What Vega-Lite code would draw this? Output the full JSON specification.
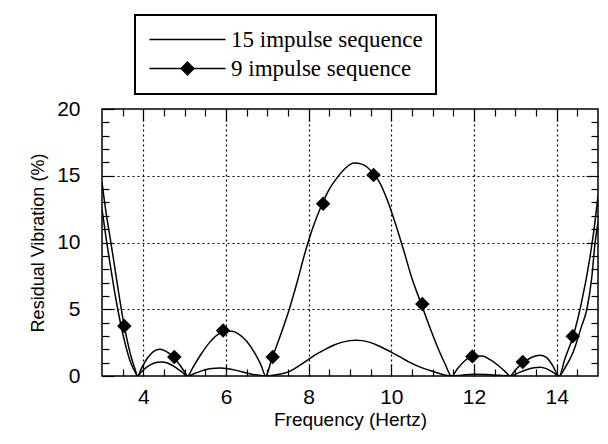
{
  "$schema": "https://vega.github.io/schema/vega-lite/v6.json",
  "width": 496,
  "height": 267,
  "autosize": {"type": "none"},
  "padding": {"left": 102, "top": 109, "right": 10, "bottom": 68},
  "background": "white",
  "config": {
    "view": {"stroke": "black", "strokeWidth": 1.5},
    "font": "Liberation Sans"
  },
  "datasets": {
    "curves": [
      {"series": "9 impulse sequence", "f": 3.0, "v": 14.5},
      {"series": "9 impulse sequence", "f": 3.1, "v": 12.2},
      {"series": "9 impulse sequence", "f": 3.2, "v": 10.3},
      {"series": "9 impulse sequence", "f": 3.3, "v": 8.3},
      {"series": "9 impulse sequence", "f": 3.4, "v": 6.3},
      {"series": "9 impulse sequence", "f": 3.5, "v": 4.4},
      {"series": "9 impulse sequence", "f": 3.6, "v": 2.8},
      {"series": "9 impulse sequence", "f": 3.7, "v": 1.5},
      {"series": "9 impulse sequence", "f": 3.8, "v": 0.5},
      {"series": "9 impulse sequence", "f": 3.86, "v": 0},
      {"series": "9 impulse sequence", "f": 3.95, "v": 0.55},
      {"series": "9 impulse sequence", "f": 4.1, "v": 1.35},
      {"series": "9 impulse sequence", "f": 4.25, "v": 1.85},
      {"series": "9 impulse sequence", "f": 4.4, "v": 2.0},
      {"series": "9 impulse sequence", "f": 4.55, "v": 1.85},
      {"series": "9 impulse sequence", "f": 4.7, "v": 1.5},
      {"series": "9 impulse sequence", "f": 4.85, "v": 0.95},
      {"series": "9 impulse sequence", "f": 5.0, "v": 0.3},
      {"series": "9 impulse sequence", "f": 5.07, "v": 0},
      {"series": "9 impulse sequence", "f": 5.2, "v": 0.65},
      {"series": "9 impulse sequence", "f": 5.4, "v": 1.65},
      {"series": "9 impulse sequence", "f": 5.6, "v": 2.5},
      {"series": "9 impulse sequence", "f": 5.8, "v": 3.1},
      {"series": "9 impulse sequence", "f": 6.0, "v": 3.35},
      {"series": "9 impulse sequence", "f": 6.15, "v": 3.35},
      {"series": "9 impulse sequence", "f": 6.3, "v": 3.15},
      {"series": "9 impulse sequence", "f": 6.5, "v": 2.6},
      {"series": "9 impulse sequence", "f": 6.7, "v": 1.7},
      {"series": "9 impulse sequence", "f": 6.85, "v": 0.8},
      {"series": "9 impulse sequence", "f": 6.96, "v": 0},
      {"series": "9 impulse sequence", "f": 7.1, "v": 1.2},
      {"series": "9 impulse sequence", "f": 7.3, "v": 2.9},
      {"series": "9 impulse sequence", "f": 7.5, "v": 4.7},
      {"series": "9 impulse sequence", "f": 7.7, "v": 6.8},
      {"series": "9 impulse sequence", "f": 7.9, "v": 9.1},
      {"series": "9 impulse sequence", "f": 8.1, "v": 11.1},
      {"series": "9 impulse sequence", "f": 8.3, "v": 12.7},
      {"series": "9 impulse sequence", "f": 8.5, "v": 14.0},
      {"series": "9 impulse sequence", "f": 8.7, "v": 14.9},
      {"series": "9 impulse sequence", "f": 8.9, "v": 15.6},
      {"series": "9 impulse sequence", "f": 9.1, "v": 15.95},
      {"series": "9 impulse sequence", "f": 9.3, "v": 15.85},
      {"series": "9 impulse sequence", "f": 9.5, "v": 15.4},
      {"series": "9 impulse sequence", "f": 9.7, "v": 14.6},
      {"series": "9 impulse sequence", "f": 9.9, "v": 13.2},
      {"series": "9 impulse sequence", "f": 10.1, "v": 11.4},
      {"series": "9 impulse sequence", "f": 10.3, "v": 9.4},
      {"series": "9 impulse sequence", "f": 10.5, "v": 7.3},
      {"series": "9 impulse sequence", "f": 10.7, "v": 5.6},
      {"series": "9 impulse sequence", "f": 10.9, "v": 3.9},
      {"series": "9 impulse sequence", "f": 11.1, "v": 2.3},
      {"series": "9 impulse sequence", "f": 11.3, "v": 0.9},
      {"series": "9 impulse sequence", "f": 11.46, "v": 0},
      {"series": "9 impulse sequence", "f": 11.6, "v": 0.55},
      {"series": "9 impulse sequence", "f": 11.8, "v": 1.2},
      {"series": "9 impulse sequence", "f": 12.0, "v": 1.5},
      {"series": "9 impulse sequence", "f": 12.2, "v": 1.5},
      {"series": "9 impulse sequence", "f": 12.4, "v": 1.2},
      {"series": "9 impulse sequence", "f": 12.6, "v": 0.75},
      {"series": "9 impulse sequence", "f": 12.75, "v": 0.35},
      {"series": "9 impulse sequence", "f": 12.87, "v": 0},
      {"series": "9 impulse sequence", "f": 13.0, "v": 0.45},
      {"series": "9 impulse sequence", "f": 13.2, "v": 1.0},
      {"series": "9 impulse sequence", "f": 13.4, "v": 1.4},
      {"series": "9 impulse sequence", "f": 13.6, "v": 1.55},
      {"series": "9 impulse sequence", "f": 13.75, "v": 1.4},
      {"series": "9 impulse sequence", "f": 13.9, "v": 0.8},
      {"series": "9 impulse sequence", "f": 14.06, "v": 0},
      {"series": "9 impulse sequence", "f": 14.2, "v": 1.3},
      {"series": "9 impulse sequence", "f": 14.4, "v": 3.0},
      {"series": "9 impulse sequence", "f": 14.6, "v": 5.5},
      {"series": "9 impulse sequence", "f": 14.8, "v": 8.8},
      {"series": "9 impulse sequence", "f": 14.9, "v": 10.9},
      {"series": "9 impulse sequence", "f": 15.0, "v": 13.5},
      {"series": "15 impulse sequence", "f": 3.0, "v": 12.5},
      {"series": "15 impulse sequence", "f": 3.1, "v": 10.3},
      {"series": "15 impulse sequence", "f": 3.2, "v": 8.3},
      {"series": "15 impulse sequence", "f": 3.3, "v": 6.4},
      {"series": "15 impulse sequence", "f": 3.4, "v": 4.7},
      {"series": "15 impulse sequence", "f": 3.5, "v": 3.2},
      {"series": "15 impulse sequence", "f": 3.6, "v": 1.95},
      {"series": "15 impulse sequence", "f": 3.7, "v": 0.95},
      {"series": "15 impulse sequence", "f": 3.8, "v": 0.3},
      {"series": "15 impulse sequence", "f": 3.86, "v": 0},
      {"series": "15 impulse sequence", "f": 3.95, "v": 0.3},
      {"series": "15 impulse sequence", "f": 4.1, "v": 0.7},
      {"series": "15 impulse sequence", "f": 4.25, "v": 0.95},
      {"series": "15 impulse sequence", "f": 4.43, "v": 1.05},
      {"series": "15 impulse sequence", "f": 4.6, "v": 0.95},
      {"series": "15 impulse sequence", "f": 4.75, "v": 0.7},
      {"series": "15 impulse sequence", "f": 4.9, "v": 0.38},
      {"series": "15 impulse sequence", "f": 5.07, "v": 0},
      {"series": "15 impulse sequence", "f": 5.25, "v": 0.2},
      {"series": "15 impulse sequence", "f": 5.45, "v": 0.42},
      {"series": "15 impulse sequence", "f": 5.65, "v": 0.57},
      {"series": "15 impulse sequence", "f": 5.85, "v": 0.6},
      {"series": "15 impulse sequence", "f": 6.05, "v": 0.55},
      {"series": "15 impulse sequence", "f": 6.25, "v": 0.42},
      {"series": "15 impulse sequence", "f": 6.45, "v": 0.26},
      {"series": "15 impulse sequence", "f": 6.65, "v": 0.12},
      {"series": "15 impulse sequence", "f": 6.85, "v": 0.03},
      {"series": "15 impulse sequence", "f": 6.96, "v": 0},
      {"series": "15 impulse sequence", "f": 7.2, "v": 0.08},
      {"series": "15 impulse sequence", "f": 7.4, "v": 0.2},
      {"series": "15 impulse sequence", "f": 7.54, "v": 0.35},
      {"series": "15 impulse sequence", "f": 7.78, "v": 0.8},
      {"series": "15 impulse sequence", "f": 8.0, "v": 1.25},
      {"series": "15 impulse sequence", "f": 8.2, "v": 1.65},
      {"series": "15 impulse sequence", "f": 8.4, "v": 2.0},
      {"series": "15 impulse sequence", "f": 8.6, "v": 2.3},
      {"series": "15 impulse sequence", "f": 8.8, "v": 2.52},
      {"series": "15 impulse sequence", "f": 9.0, "v": 2.65},
      {"series": "15 impulse sequence", "f": 9.15, "v": 2.68},
      {"series": "15 impulse sequence", "f": 9.3, "v": 2.65},
      {"series": "15 impulse sequence", "f": 9.5, "v": 2.5},
      {"series": "15 impulse sequence", "f": 9.7, "v": 2.25},
      {"series": "15 impulse sequence", "f": 9.96, "v": 1.85},
      {"series": "15 impulse sequence", "f": 10.2, "v": 1.45},
      {"series": "15 impulse sequence", "f": 10.4, "v": 1.1},
      {"series": "15 impulse sequence", "f": 10.6, "v": 0.8},
      {"series": "15 impulse sequence", "f": 10.8, "v": 0.55},
      {"series": "15 impulse sequence", "f": 11.0, "v": 0.35},
      {"series": "15 impulse sequence", "f": 11.2, "v": 0.15},
      {"series": "15 impulse sequence", "f": 11.35, "v": 0.04},
      {"series": "15 impulse sequence", "f": 11.46, "v": 0},
      {"series": "15 impulse sequence", "f": 11.7, "v": 0.06},
      {"series": "15 impulse sequence", "f": 12.0, "v": 0.13},
      {"series": "15 impulse sequence", "f": 12.3, "v": 0.12},
      {"series": "15 impulse sequence", "f": 12.6, "v": 0.05},
      {"series": "15 impulse sequence", "f": 12.87, "v": 0},
      {"series": "15 impulse sequence", "f": 13.05, "v": 0.2},
      {"series": "15 impulse sequence", "f": 13.25, "v": 0.45},
      {"series": "15 impulse sequence", "f": 13.45, "v": 0.62},
      {"series": "15 impulse sequence", "f": 13.6, "v": 0.66},
      {"series": "15 impulse sequence", "f": 13.75, "v": 0.55},
      {"series": "15 impulse sequence", "f": 13.9, "v": 0.3},
      {"series": "15 impulse sequence", "f": 14.06, "v": 0},
      {"series": "15 impulse sequence", "f": 14.2, "v": 0.6},
      {"series": "15 impulse sequence", "f": 14.4, "v": 1.8},
      {"series": "15 impulse sequence", "f": 14.6, "v": 3.7},
      {"series": "15 impulse sequence", "f": 14.73, "v": 5.0},
      {"series": "15 impulse sequence", "f": 14.85, "v": 7.4},
      {"series": "15 impulse sequence", "f": 14.93, "v": 10.0},
      {"series": "15 impulse sequence", "f": 15.0, "v": 11.5}
    ],
    "markers": [
      {"f": 3.54, "v": 3.75},
      {"f": 4.75, "v": 1.43},
      {"f": 5.93, "v": 3.4},
      {"f": 7.13, "v": 1.43},
      {"f": 8.35, "v": 12.9},
      {"f": 9.57, "v": 15.05},
      {"f": 10.75, "v": 5.4},
      {"f": 11.96, "v": 1.47},
      {"f": 13.18, "v": 1.05},
      {"f": 14.39, "v": 2.97}
    ]
  },
  "layer": [
    {
      "data": {"name": "curves"},
      "mark": {"type": "line", "strokeWidth": 1.5, "interpolate": "monotone", "clip": true},
      "encoding": {
        "x": {
          "field": "f", "type": "quantitative",
          "scale": {"domain": [3, 15], "nice": false, "zero": false},
          "axis": {
            "orient": "top",
            "values": [3.5, 4, 4.5, 5, 5.5, 6, 6.5, 7, 7.5, 8, 8.5, 9, 9.5, 10, 10.5, 11, 11.5, 12, 12.5, 13, 13.5, 14, 14.5],
            "labels": false, "domain": false, "grid": false, "title": null,
            "tickColor": "black", "tickWidth": 1.2,
            "tickSize": {"expr": "datum.value % 2 === 0 ? -12 : -7"}
          }
        },
        "y": {
          "field": "v", "type": "quantitative",
          "scale": {"domain": [0, 20], "nice": false},
          "axis": {
            "orient": "left",
            "values": [0, 1, 2, 3, 4, 5, 6, 7, 8, 9, 10, 11, 12, 13, 14, 15, 16, 17, 18, 19, 20],
            "labelExpr": "datum.value % 5 === 0 ? '' + datum.value : ''",
            "domain": false,
            "tickColor": "black", "tickWidth": 1.2,
            "tickSize": {"expr": "datum.value % 5 === 0 ? -12 : -7"},
            "grid": true, "gridColor": "black", "gridWidth": 1.2, "gridDash": [2, 3],
            "gridOpacity": {"condition": {"test": "datum.value % 5 === 0 && datum.value > 0 && datum.value < 20", "value": 1}, "value": 0},
            "labelFontSize": 21, "labelColor": "black", "labelPadding": 34,
            "title": "Residual Vibration (%)", "titleFontSize": 18, "titleFontWeight": "normal", "titleColor": "black", "titlePadding": 9
          }
        },
        "color": {
          "field": "series", "type": "nominal",
          "scale": {"domain": ["15 impulse sequence", "9 impulse sequence"], "range": ["black", "black"]},
          "legend": {
            "orient": "none", "legendX": 33, "legendY": -94,
            "direction": "vertical", "title": null,
            "fillColor": "white", "strokeColor": "black",
            "padding": 13, "rowPadding": 5,
            "symbolSize": 400, "labelOffset": 60,
            "labelFont": "Liberation Serif", "labelFontSize": 23, "labelColor": "black", "labelLimit": 300,
            "encode": {
              "legend": {"update": {"strokeWidth": {"value": 2}}},
              "symbols": {
                "update": {
                  "shape": {"signal": "datum.value === '9 impulse sequence' ? 'M-1,0H6.6M2.8,-0.65L3.45,0L2.8,0.65L2.15,0Z' : 'M-1,0H6.6'"},
                  "fill": {"value": "black"},
                  "stroke": {"value": "black"},
                  "strokeWidth": {"value": 1.3}
                }
              }
            }
          }
        }
      }
    },
    {
      "data": {"name": "markers"},
      "mark": {"type": "point", "shape": "diamond", "filled": true, "color": "black", "opacity": 1, "size": 210},
      "encoding": {
        "x": {
          "field": "f", "type": "quantitative",
          "axis": {
            "orient": "bottom",
            "values": [3.5, 4, 4.5, 5, 5.5, 6, 6.5, 7, 7.5, 8, 8.5, 9, 9.5, 10, 10.5, 11, 11.5, 12, 12.5, 13, 13.5, 14, 14.5],
            "labelExpr": "datum.value % 2 === 0 ? '' + datum.value : ''",
            "domain": false,
            "tickColor": "black", "tickWidth": 1.2,
            "tickSize": {"expr": "datum.value % 2 === 0 ? -12 : -7"},
            "grid": true, "gridColor": "black", "gridWidth": 1.2, "gridDash": [2, 3],
            "gridOpacity": {"condition": {"test": "datum.value % 2 === 0", "value": 1}, "value": 0},
            "labelFontSize": 21, "labelColor": "black", "labelPadding": 22,
            "title": "Frequency (Hertz)", "titleFontSize": 19, "titleFontWeight": "normal", "titleColor": "black", "titlePadding": 3
          }
        },
        "y": {
          "field": "v", "type": "quantitative",
          "axis": {
            "orient": "right",
            "values": [1, 2, 3, 4, 5, 6, 7, 8, 9, 10, 11, 12, 13, 14, 15, 16, 17, 18, 19],
            "labels": false, "domain": false, "grid": false, "title": null,
            "tickColor": "black", "tickWidth": 1.2,
            "tickSize": {"expr": "datum.value % 5 === 0 ? -12 : -7"}
          }
        }
      }
    }
  ],
  "resolve": {"axis": {"x": "independent", "y": "independent"}}
}
